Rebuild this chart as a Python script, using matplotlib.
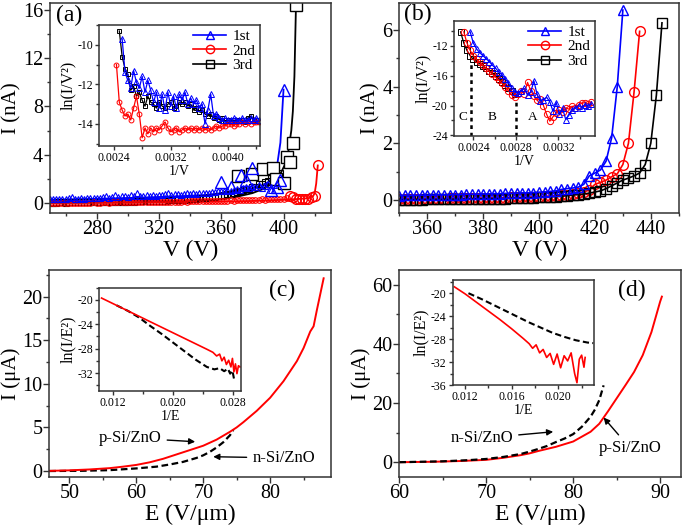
import numpy as np
import matplotlib
matplotlib.use('Agg')
import matplotlib.pyplot as plt
from matplotlib.lines import Line2D
from matplotlib.ticker import MultipleLocator, FixedLocator, FormatStrFormatter

plt.rcParams['font.family'] = ['Liberation Serif', 'DejaVu Serif']
plt.rcParams['axes.unicode_minus'] = False

W, H = 685, 531
BLUE, RED, BLACK = '#0000ff', '#ff0000', '#000000'

# ---------------- panel (a) : I-V, three sweeps ----------------
a_v_dense = np.arange(250, 399, 2)
a_blue_dense = [0.30, 0.32, 0.30, 0.35, 0.33, 0.30, 0.36, 0.50, 0.34, 0.32, 0.38, 0.35, 0.40, 0.36, 0.38, 0.42, 0.40,
                0.45, 0.55, 0.42, 0.50, 0.65, 0.48, 0.55, 0.60,
                0.52, 0.62, 0.58, 0.80, 0.55, 0.60, 0.62, 0.58, 0.65, 0.60, 0.68, 0.62, 0.70, 0.85, 0.66, 0.70, 0.72,
                0.68, 0.75, 0.80, 0.72, 0.78, 0.76, 0.80, 0.82,
                0.85, 0.80, 0.88, 0.90, 0.95, 1.00, 0.95, 1.05, 1.00, 1.10, 1.15, 1.05, 1.20, 1.30, 1.25, 1.40, 1.30,
                1.50, 1.20, 1.40, 1.60, 1.10, 1.50, 1.80, 2.00]
a_black_dense = [0.02, 0.02, 0.01, 0.03, 0.03, 0.02, 0.03, 0.04, 0.04, 0.03, 0.04, 0.05, 0.05, 0.04, 0.06, 0.06, 0.05,
                 0.07, 0.07, 0.06, 0.08, 0.08, 0.09, 0.08, 0.10,
                 0.10, 0.11, 0.10, 0.12, 0.13, 0.12, 0.14, 0.14, 0.15, 0.16, 0.15, 0.18, 0.17, 0.20, 0.19, 0.22, 0.21,
                 0.24, 0.26, 0.25, 0.29, 0.31, 0.30, 0.36, 0.39,
                 0.42, 0.46, 0.44, 0.52, 0.58, 0.55, 0.66, 0.70, 0.74, 0.85, 0.86, 0.98, 1.02, 1.15, 1.12, 1.30, 1.35,
                 1.52, 1.58, 1.75, 1.85, 2.05, 2.15, 2.30, 2.50]
a_v_red = np.arange(250, 403, 2)
a_red_dense = [0.00, 0.01, 0.00, 0.01, 0.01, 0.00, 0.01, 0.02, 0.01, 0.01, 0.02, 0.02, 0.01, 0.02, 0.03, 0.02, 0.02,
               0.03, 0.03, 0.02, 0.03, 0.04, 0.03, 0.04, 0.04,
               0.04, 0.05, 0.04, 0.05, 0.06, 0.05, 0.06, 0.07, 0.06, 0.07, 0.08, 0.07, 0.08, 0.09, 0.08, 0.10, 0.09,
               0.10, 0.11, 0.10, 0.12, 0.11, 0.13, 0.12, 0.14,
               0.13, 0.15, 0.14, 0.16, 0.15, 0.17, 0.16, 0.18, 0.20, 0.18, 0.21, 0.19, 0.22, 0.24, 0.21, 0.25, 0.23,
               0.26, 0.28, 0.25, 0.30, 0.28, 0.32, 0.30, 0.35, 0.33, 0.38]

a_blue_big_v = [360, 366, 373, 376, 380, 392, 395.5, 398, 400]
a_blue_big_i = [1.75, 1.33, 2.3, 1.9, 2.85, 1.05, 1.33, 1.9, 9.4]
a_black_big_v = [370.5, 380, 387, 393, 395, 400, 402, 404, 406, 408]
a_black_big_i = [2.2, 2.4, 2.8, 2.85, 2.0, 1.66, 3.8, 3.4, 5.0, 16.4]
a_red_big_v = [404, 406, 408, 410, 412, 414, 416, 418, 420, 422]
a_red_big_i = [0.55, 0.45, 0.35, 0.30, 0.30, 0.32, 0.35, 0.45, 0.60, 3.1]

a_blue_fit_v = [250, 280, 300, 320, 340, 350, 360, 370, 380, 386, 390, 393, 396, 398, 400]
a_blue_fit_i = [0.25, 0.33, 0.40, 0.48, 0.58, 0.65, 0.78, 0.95, 1.20, 1.45, 1.70, 2.10, 3.20, 5.00, 9.40]
a_black_fit_v = [250, 300, 330, 350, 360, 370, 380, 388, 394, 398, 401, 403, 405, 406, 407, 408]
a_black_fit_i = [0.0, 0.03, 0.08, 0.18, 0.30, 0.50, 0.80, 1.20, 1.75, 2.40, 3.20, 4.20, 6.00, 7.60, 10.5, 16.4]
a_red_fit_v = [250, 300, 350, 380, 400, 410, 416, 419, 420, 421, 422]
a_red_fit_i = [0.0, 0.03, 0.08, 0.15, 0.25, 0.32, 0.38, 0.55, 0.80, 1.60, 3.10]

# inset (a): ln(I/V^2) vs 1/V
ia_x = [0.00236, 0.00240, 0.00244, 0.00248, 0.00252, 0.00256, 0.00260, 0.00264, 0.00268, 0.00272, 0.00276,
        0.00280, 0.00284, 0.00288, 0.00292, 0.00296, 0.00300, 0.00304, 0.00308, 0.00312, 0.00316, 0.00320,
        0.00324, 0.00328, 0.00332, 0.00336, 0.00340, 0.00344, 0.00348, 0.00352, 0.00356, 0.00360, 0.00364,
        0.00368, 0.00372, 0.00376, 0.00380, 0.00384, 0.00388, 0.00392, 0.00396, 0.00400, 0.00404, 0.00408,
        0.00412, 0.00416, 0.00420, 0.00424, 0.00428, 0.00432, 0.00436, 0.00440, 0.00444]
nan = np.nan
ia_blue = [nan, nan, nan, nan, -9.7, -11.4, -11.8, -12.2, -11.3, -11.9, -12.2, -11.6, -12.4, -11.8, -12.3, -12.9,
           -12.4, -13.2, -12.5, -13.3, -12.4, -13.1, -12.6, -13.2, -12.5, -12.8, -12.4, -13.0, -12.7, -13.0, -12.8,
           -13.2, -13.0, -14.0, -13.3, -12.5, -13.6, -13.5, -13.7, -13.8, -13.7, -13.8, -13.8, -13.7, -13.8, -13.8,
           -13.7, -13.8, -13.8, -13.7, -13.8, -13.7, -13.8]
ia_red = [nan, nan, -11.0, -12.9, -13.3, -13.6, -13.5, -13.8, -13.2, -12.6, -13.5, -14.7, -14.2, -14.5, -14.2,
          -14.4, -14.2, -14.3, -14.1, -13.9, -14.2, -14.4, -14.3, -14.2, -14.4, -14.3, -14.2, -14.3, -14.2, -14.3,
          -14.2, -14.3, -14.2, -14.3, -14.2, -14.3, -14.2, -14.1, -14.2, -14.1, -14.1, -14.0, -14.0, -14.1, -14.0,
          -14.0, -13.9, -14.0, -13.9, -14.0, -13.9, -13.9, -13.9]
ia_black = [nan, nan, nan, -9.3, -10.6, -11.2, -11.5, -12.3, -12.1, -12.6, -12.4, -12.8, -13.1, -12.6, -12.9,
            -13.0, -13.2, -12.9, -13.1, -13.2, -13.0, -12.9, -13.2, -13.1, -12.9, -13.0, -12.9, -13.1, -13.0, -13.3,
            -13.2, -13.4, -13.3, -13.5, -13.6, -13.5, -13.7, -13.6, -13.8, -13.7, -13.9, -13.8, -13.9, -13.8, -13.9,
            -13.8, -13.8, -13.9, -13.7, -13.6, -13.8, -13.8, -13.9]

# ---------------- panel (b) ----------------
b_v_blue = np.arange(350, 431, 2)
b_blue = [0.15, 0.16, 0.16, 0.16, 0.17, 0.17, 0.17, 0.18, 0.18, 0.18, 0.19, 0.19, 0.20, 0.20, 0.20, 0.21, 0.21,
          0.22, 0.22, 0.23, 0.23, 0.24, 0.25, 0.25, 0.26,
          0.27, 0.28, 0.30, 0.32, 0.37, 0.40, 0.42, 0.45, 0.55, 0.85, 0.95, 1.06, 1.37, 2.2, 4.0, 6.7]
b_v_red = np.arange(350, 437, 2)
b_red = [0.04, 0.04, 0.04, 0.05, 0.05, 0.05, 0.05, 0.05, 0.05, 0.06, 0.06, 0.06, 0.06, 0.06, 0.07, 0.07, 0.07,
         0.08, 0.08, 0.08, 0.09, 0.09, 0.10, 0.10, 0.11,
         0.12, 0.13, 0.14, 0.15, 0.17, 0.19, 0.21, 0.24, 0.28, 0.35, 0.55, 0.62, 0.70, 0.82, 0.92, 1.25, 2.0, 3.8, 5.95]
b_v_black = np.arange(350, 445, 2)
b_black = [0.01, 0.01, 0.01, 0.01, 0.01, 0.02, 0.02, 0.02, 0.02, 0.02, 0.03, 0.03, 0.03, 0.03, 0.04, 0.04, 0.04,
           0.05, 0.05, 0.05, 0.06, 0.06, 0.07, 0.07, 0.08,
           0.09, 0.10, 0.11, 0.12, 0.13, 0.15, 0.17, 0.19, 0.21, 0.24, 0.28, 0.32, 0.40, 0.50, 0.60, 0.70, 0.77,
           0.85, 0.95, 1.25, 2.0, 3.7, 6.25]

ib_x = [0.00228, 0.00231, 0.00234, 0.00237, 0.00240, 0.00243, 0.00246, 0.00249, 0.00252, 0.00255, 0.00258,
        0.00261, 0.00264, 0.00267, 0.00270, 0.00273, 0.00276, 0.00279, 0.00282, 0.00285, 0.00288, 0.00291,
        0.00294, 0.00297, 0.00300, 0.00303, 0.00306, 0.00309, 0.00312, 0.00315, 0.00318, 0.00321, 0.00324,
        0.00327, 0.00330, 0.00333, 0.00336, 0.00339, 0.00342, 0.00345, 0.00348, 0.00351]
ib_blue = [nan, nan, nan, -10.1, -11.6, -12.4, -12.9, -13.3, -13.7, -14.1, -14.6, -15.0, -15.5, -15.9, -16.4,
           -17.0, -17.6, -18.2, -18.3, -18.0, -17.7, -18.6, -18.2, -16.7, -18.5, -19.4, -19.2, -18.9, -19.5, -20.8,
           -19.6, -21.2, -20.4, -21.9, -21.3, -20.6, -20.4, -20.0, -20.3, -19.9, -20.1, -19.8]
ib_red = [nan, -10.1, -11.6, -12.6, -13.3, -13.8, -14.2, -14.6, -15.0, -15.4, -15.8, -16.2, -16.6, -17.0, -17.5,
          -18.0, -18.6, -18.8, -18.4, -18.1, -18.4, -16.9, -18.0, -18.7, -19.3, -19.1, -20.0, -21.2, -22.1, -21.5,
          -21.0, -20.6, -20.9, -20.3, -20.5, -20.1, -20.3, -19.9, -19.7, -19.6, -19.8, -19.5]
ib_black = [-10.1, -11.6, -12.6, -13.3, -13.8, -14.1, -14.4, -14.7, -15.0, -15.3, -15.6, -16.0, -16.4, -16.8,
            -17.2, -17.6, -18.1, -18.4] + [nan] * 24
ib_regions = [0.00238, 0.0028]
ib_region_tops = [-14.0, -19.2]

# ---------------- panel (c) ----------------
c_red_e = [47, 50, 53, 56, 58, 60, 62, 64, 66, 68, 70, 72, 74, 75, 76, 78, 80, 82, 84, 85, 86, 86.5, 87, 87.5, 88]
c_red_i = [0.02, 0.08, 0.18, 0.33, 0.50, 0.70, 1.0, 1.4, 1.9, 2.4, 2.9, 3.6, 4.5, 5.0, 5.6, 6.9, 8.4, 10.3, 12.6,
           14.1, 16.0, 16.6, 18.5, 20.3, 22.1]
c_black_e = [47, 52, 56, 60, 63, 65, 67, 69, 70, 71, 72, 73, 74, 74.5]
c_black_i = [0.0, 0.03, 0.10, 0.30, 0.50, 0.75, 1.05, 1.50, 1.80, 2.20, 2.70, 3.30, 4.10, 4.70]
ic_red_x = [0.0105, 0.0125, 0.0145, 0.0165, 0.0185, 0.0205, 0.0225, 0.0245, 0.0253, 0.0258, 0.0262, 0.0265, 0.0268,
            0.0271, 0.0274, 0.0277, 0.0279, 0.0281, 0.0283, 0.0285, 0.0287, 0.0289]
ic_red_y = [-19.7, -20.9, -22.1, -23.3, -24.5, -25.7, -26.9, -28.1, -28.6, -29.2, -28.9, -30.0, -29.4, -30.6, -29.9,
            -31.0, -29.6, -31.8, -30.5, -32.1, -30.8, -31.0]
ic_black_x = [0.0125, 0.0140, 0.0155, 0.0170, 0.0185, 0.0200, 0.0215, 0.0230, 0.0245, 0.0255, 0.0262, 0.0268,
              0.0273, 0.0276, 0.0279, 0.0281]
ic_black_y = [-20.9, -21.8, -22.9, -24.3, -25.6, -27.0, -28.4, -29.8, -31.0, -31.4, -31.2, -31.7, -31.3, -32.1,
              -31.6, -32.9]

# ---------------- panel (d) ----------------
d_red_e = [60, 64, 67, 70, 72, 74, 75, 76, 78, 80, 82, 83, 84, 85, 86, 87, 88, 89, 90, 90.2]
d_red_i = [0.0, 0.15, 0.4, 0.8, 1.5, 2.4, 3.0, 3.8, 5.2, 7.0, 10.3, 13.0, 17.2, 21.6, 26.0, 30.5, 36.2, 44.0, 54.3,
           56.0]
d_black_e = [60, 65, 68, 70, 72, 74, 75, 76, 77, 78, 79, 80, 81, 82, 82.5, 83, 83.5]
d_black_i = [0.0, 0.3, 0.7, 1.1, 1.8, 2.8, 3.6, 4.5, 5.5, 6.8, 8.0, 9.5, 12.0, 15.4, 17.8, 21.0, 26.0]
id_red_x = [0.0111, 0.0120, 0.0130, 0.0140, 0.0150, 0.0160, 0.0170, 0.0175, 0.0178, 0.0181, 0.0184, 0.0187, 0.0190,
            0.0193, 0.0196, 0.0199, 0.0202, 0.0205, 0.0208, 0.0211, 0.0214, 0.0216, 0.0218, 0.0220, 0.0222, 0.0223]
id_red_y = [-18.9, -20.1, -21.6, -23.1, -24.6, -26.2, -27.9, -28.8, -29.6, -29.0, -30.4, -29.8, -31.2, -30.5, -32.4,
            -30.6, -33.0, -30.9, -31.8, -30.4, -34.0, -35.6, -31.5, -30.8, -32.9, -31.2]
id_black_x = [0.0123, 0.0135, 0.0145, 0.0155, 0.0165, 0.0175, 0.0185, 0.0195, 0.0205, 0.0215, 0.0225, 0.0230]
id_black_y = [-20.0, -21.1, -22.1, -23.1, -24.1, -25.1, -26.0, -26.9, -27.6, -28.2, -28.6, -28.7]

legend_labels = ['1st', '2nd', '3rd']


def add_ax(fig, l, t, r, b):
    # pixel box (left, top, right, bottom) -> figure fraction
    return fig.add_axes([l / W, 1 - b / H, (r - l) / W, (b - t) / H])


def style(ax, size, major=4, minor=2.5, pad=1.5):
    for s in ax.spines.values():
        s.set_color('#333333')
        s.set_linewidth(1.1)
    ax.tick_params(which='both', direction='out', top=False, right=False, labelsize=size,
                   color='#333333', width=1, pad=pad)
    ax.tick_params(which='major', length=major)
    ax.tick_params(which='minor', length=minor)


fig = plt.figure(figsize=(W / 100, H / 100), dpi=100)

MAIN_TICK = 14.5
XLAB = 17
YLAB = 15
IN_TICK = 8.5
IN_XLAB = 10
IN_YLAB = 11.5

# ---------- (a) ----------
ax = add_ax(fig, 50, 3, 331, 213)
style(ax, MAIN_TICK, pad=1)
ax.plot(a_black_fit_v, a_black_fit_i, color=BLACK, lw=1.3)
ax.plot(a_red_fit_v, a_red_fit_i, color=RED, lw=1.3)
ax.plot(a_blue_fit_v, a_blue_fit_i, color=BLUE, lw=1.3)
ax.plot(a_v_dense, a_black_dense, ls='none', marker='s', ms=4, mfc='none', mec=BLACK, mew=0.8)
ax.plot(a_v_red, a_red_dense, ls='none', marker='o', ms=4, mfc='none', mec=RED, mew=0.8)
ax.plot(a_v_dense, a_blue_dense, ls='none', marker='^', ms=4.5, mfc='none', mec=BLUE, mew=0.8)
ax.plot(a_black_big_v, a_black_big_i, ls='none', marker='s', ms=8, mfc='white', mec=BLACK, mew=1)
ax.plot(a_red_big_v, a_red_big_i, ls='none', marker='o', ms=7, mfc='none', mec=RED, mew=1)
ax.plot(a_blue_big_v, a_blue_big_i, ls='none', marker='^', ms=9, mfc='none', mec=BLUE, mew=1)
ax.set_xlim(250, 430.5)
ax.set_ylim(-0.85, 16.6)
ax.xaxis.set_major_locator(FixedLocator([280, 320, 360, 400]))
ax.xaxis.set_minor_locator(FixedLocator([260, 300, 340, 380, 420]))
ax.yaxis.set_major_locator(MultipleLocator(4))
ax.yaxis.set_minor_locator(MultipleLocator(2))
ax.set_xlabel('V (V)', fontsize=XLAB, labelpad=1)
ax.set_ylabel('I (nA)', fontsize=YLAB, labelpad=1)
ax.text(0.068, 0.943, '(a)', transform=ax.transAxes, fontsize=17, ha='center', va='center')

ia = add_ax(fig, 99.3, 25, 260, 145.7)
style(ia, IN_TICK, 3, 2, 1.5)
ia.plot(ia_x, ia_black, color=BLACK, lw=0.9, marker='s', ms=3.5, mfc='none', mew=0.7)
ia.plot(ia_x, ia_red, color=RED, lw=0.9, marker='o', ms=3.5, mfc='none', mew=0.7)
ia.plot(ia_x, ia_blue, color=BLUE, lw=0.9, marker='^', ms=3.8, mfc='none', mew=0.7)
ia.set_xlim(0.0022, 0.00445)
ia.set_ylim(-15.1, -9.0)
ia.xaxis.set_major_locator(FixedLocator([0.0024, 0.0032, 0.0040]))
ia.xaxis.set_minor_locator(FixedLocator([0.0028, 0.0036, 0.0044]))
ia.xaxis.set_major_formatter(FormatStrFormatter('%.4f'))
ia.yaxis.set_major_locator(FixedLocator([-10, -12, -14]))
ia.yaxis.set_minor_locator(FixedLocator([-9, -11, -13, -15]))
ia.set_xlabel('1/V', fontsize=IN_XLAB, labelpad=0.5)
ia.set_ylabel('ln(I/V²)', fontsize=IN_YLAB, labelpad=1)
handles = [Line2D([], [], color=BLUE, marker='^', ms=6, mfc='none', lw=1.2),
           Line2D([], [], color=RED, marker='o', ms=6, mfc='none', lw=1.2),
           Line2D([], [], color=BLACK, marker='s', ms=6, mfc='none', lw=1.2)]
ia.legend(handles, legend_labels, loc='upper right', frameon=False, fontsize=11, handlelength=2.2,
          labelspacing=0.05, handletextpad=0.4, borderaxespad=0.1, borderpad=0.2)

# ---------- (b) ----------
bx = add_ax(fig, 399.3, 3, 679.3, 212.7)
style(bx, MAIN_TICK, pad=1)
bx.plot(b_v_red, b_red, color=RED, lw=1.2, marker='o', ms=7, mfc='none', mew=1)
bx.plot(b_v_black, b_black, color=BLACK, lw=1.2, marker='s', ms=7, mfc='none', mew=1)
bx.plot(b_v_blue, b_blue, color=BLUE, lw=1.2, marker='^', ms=7.5, mfc='none', mew=1)
bx.set_xlim(350, 450.2)
bx.set_ylim(-0.45, 6.95)
bx.xaxis.set_major_locator(MultipleLocator(20))
bx.xaxis.set_minor_locator(MultipleLocator(10))
bx.yaxis.set_major_locator(MultipleLocator(2))
bx.yaxis.set_minor_locator(MultipleLocator(1))
bx.set_xlabel('V (V)', fontsize=XLAB, labelpad=1)
bx.set_ylabel('I (nA)', fontsize=YLAB, labelpad=1)
bx.text(0.067, 0.943, '(b)', transform=bx.transAxes, fontsize=17, ha='center', va='center')

ib = add_ax(fig, 454, 20.7, 595, 136)
style(ib, IN_TICK, 3, 2, 1.5)
ib.plot(ib_x, ib_black, color=BLACK, lw=0.9, marker='s', ms=4.5, mfc='none', mew=0.7)
ib.plot(ib_x, ib_red, color=RED, lw=0.9, marker='o', ms=4.5, mfc='none', mew=0.7)
ib.plot(ib_x, ib_blue, color=BLUE, lw=0.9, marker='^', ms=5, mfc='none', mew=0.7)
for xr, top in zip(ib_regions, ib_region_tops):
    ib.plot([xr, xr], [-24.1, top], color=BLACK, lw=1.8, ls=(0, (1.5, 1.5)))
ib.text(0.0023, -21.5, 'C', fontsize=9.5, ha='center', va='center')
ib.text(0.00258, -21.5, 'B', fontsize=9.5, ha='center', va='center')
ib.text(0.00296, -21.5, 'A', fontsize=9.5, ha='center', va='center')
ib.set_xlim(0.002218, 0.003545)
ib.set_ylim(-24.1, -8.6)
ib.xaxis.set_major_locator(FixedLocator([0.0024, 0.0028, 0.0032]))
ib.xaxis.set_minor_locator(FixedLocator([0.0026, 0.0030, 0.0034]))
ib.xaxis.set_major_formatter(FormatStrFormatter('%.4f'))
ib.yaxis.set_major_locator(FixedLocator([-12, -16, -20, -24]))
ib.yaxis.set_minor_locator(FixedLocator([-10, -14, -18, -22]))
ib.set_xlabel('1/V', fontsize=IN_XLAB, labelpad=0.5)
ib.set_ylabel('ln(I/V²)', fontsize=IN_YLAB, labelpad=1)
ib.legend(handles, legend_labels, loc='upper right', frameon=False, fontsize=11, handlelength=2.2,
          labelspacing=0.05, handletextpad=0.4, borderaxespad=0.1, borderpad=0.2)

# ---------- (c) ----------
cx = add_ax(fig, 49.3, 270, 331, 476.7)
style(cx, MAIN_TICK, pad=1)
cx.plot(c_black_e, c_black_i, color=BLACK, lw=1.6, ls=(0, (3, 1.6)))
cx.plot(c_red_e, c_red_i, color=RED, lw=1.4)
cx.set_xlim(47, 89.1)
cx.set_ylim(-0.65, 23.05)
cx.xaxis.set_major_locator(MultipleLocator(10))
cx.xaxis.set_minor_locator(MultipleLocator(5))
cx.yaxis.set_major_locator(MultipleLocator(5))
cx.yaxis.set_minor_locator(MultipleLocator(2.5))
cx.set_xlabel('E (V/μm)', fontsize=XLAB, labelpad=1)
cx.set_ylabel('I (μA)', fontsize=YLAB, labelpad=1)
cx.text(0.826, 0.903, '(c)', transform=cx.transAxes, fontsize=17, ha='center', va='center')
arrow = dict(arrowstyle='-|>', color=BLACK, lw=1, mutation_scale=9, shrinkA=2, shrinkB=0)
cx.annotate('p-Si/ZnO', xy=(68.8, 3.36), xytext=(59.1, 3.8), fontsize=12, ha='center', va='center',
            arrowprops=arrow)
cx.annotate('n-Si/ZnO', xy=(71.5, 1.64), xytext=(82.0, 1.5), fontsize=12, ha='center', va='center',
            arrowprops=arrow)

ic = add_ax(fig, 99.3, 287.7, 240.7, 390.7)
style(ic, IN_TICK, 3, 2, 1.5)
ic.plot(ic_black_x, ic_black_y, color=BLACK, lw=1.5, ls=(0, (3, 1.6)))
ic.plot(ic_red_x, ic_red_y, color=RED, lw=1.2)
ic.set_xlim(0.0102, 0.029)
ic.set_ylim(-34.9, -18)
ic.xaxis.set_major_locator(FixedLocator([0.012, 0.020, 0.028]))
ic.xaxis.set_minor_locator(FixedLocator([0.016, 0.024]))
ic.xaxis.set_major_formatter(FormatStrFormatter('%.3f'))
ic.yaxis.set_major_locator(FixedLocator([-20, -24, -28, -32]))
ic.yaxis.set_minor_locator(FixedLocator([-18, -22, -26, -30, -34]))
ic.set_xlabel('1/E', fontsize=IN_XLAB, labelpad=0.5)
ic.set_ylabel('ln(I/E²)', fontsize=IN_YLAB, labelpad=1)

# ---------- (d) ----------
dx = add_ax(fig, 399.3, 270, 681, 476.7)
style(dx, MAIN_TICK, pad=1)
dx.plot(d_red_e, d_red_i, color=RED, lw=1.4)
dx.plot(d_black_e, d_black_i, color=BLACK, lw=1.6, ls=(0, (3, 1.6)))
dx.set_xlim(60, 92.4)
dx.set_ylim(-4.9, 65)
dx.xaxis.set_major_locator(MultipleLocator(10))
dx.xaxis.set_minor_locator(MultipleLocator(5))
dx.yaxis.set_major_locator(MultipleLocator(20))
dx.yaxis.set_minor_locator(MultipleLocator(10))
dx.set_xlabel('E (V/μm)', fontsize=XLAB, labelpad=1)
dx.set_ylabel('I (μA)', fontsize=YLAB, labelpad=1)
dx.text(0.826, 0.903, '(d)', transform=dx.transAxes, fontsize=17, ha='center', va='center')
dx.annotate('n-Si/ZnO', xy=(77.7, 10.3), xytext=(69.5, 8.1), fontsize=12, ha='center', va='center',
            arrowprops=arrow)
dx.annotate('p-Si/ZnO', xy=(83.5, 15.1), xytext=(86.5, 4.9), fontsize=12, ha='center', va='center',
            arrowprops=arrow)

idd = add_ax(fig, 452.7, 280, 594, 385)
style(idd, IN_TICK, 3, 2, 1.5)
idd.plot(id_red_x, id_red_y, color=RED, lw=1.2)
idd.plot(id_black_x, id_black_y, color=BLACK, lw=1.5, ls=(0, (3, 1.6)))
idd.set_xlim(0.01095, 0.02306)
idd.set_ylim(-36, -17.7)
idd.xaxis.set_major_locator(FixedLocator([0.012, 0.016, 0.020]))
idd.xaxis.set_minor_locator(FixedLocator([0.014, 0.018, 0.022]))
idd.xaxis.set_major_formatter(FormatStrFormatter('%.3f'))
idd.yaxis.set_major_locator(FixedLocator([-20, -24, -28, -32, -36]))
idd.yaxis.set_minor_locator(FixedLocator([-18, -22, -26, -30, -34]))
idd.set_xlabel('1/E', fontsize=IN_XLAB, labelpad=0.5)
idd.set_ylabel('ln(I/E²)', fontsize=IN_YLAB, labelpad=1)

fig.savefig('out.png', dpi=100)
